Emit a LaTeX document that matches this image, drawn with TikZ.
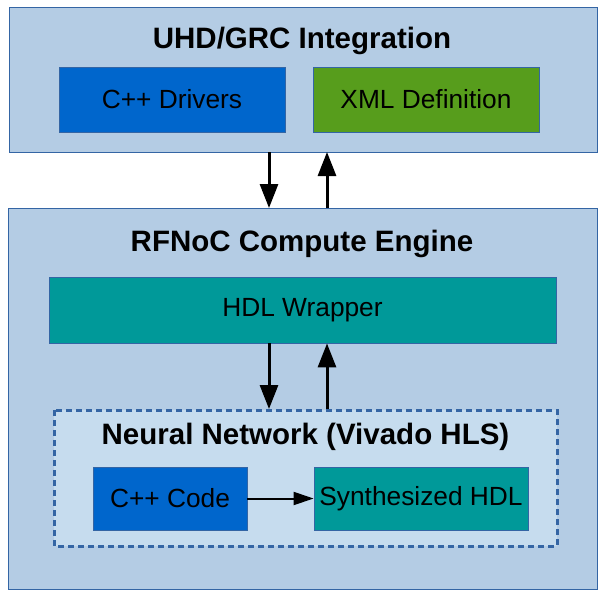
\documentclass[tikz,border=0pt]{standalone}
\usepackage{fontspec}
\setmainfont{Liberation Sans}
\usetikzlibrary{arrows.meta}
\definecolor{outerfill}{HTML}{B4CCE4}
\definecolor{outerdraw}{HTML}{3465A4}
\definecolor{innerfill}{HTML}{C6DCEE}
\definecolor{cppblue}{HTML}{0066CC}
\definecolor{xmlgreen}{HTML}{579D1C}
\definecolor{tealbox}{HTML}{009999}
\tikzset{
  outerbox/.style={draw=outerdraw, fill=outerfill, line width=1pt},
  innerbox/.style={draw=outerdraw, fill=innerfill, line width=3pt, dash pattern=on 6pt off 4pt},
  block/.style={draw=outerdraw, line width=0.8pt, inner sep=0pt},
  titletext/.style={font=\fontsize{29.5}{31}\selectfont\bfseries},
  blocktext/.style={font=\fontsize{26.3}{28}\selectfont},
  bigarrow/.style={line width=3pt, -{Triangle[width=18pt,length=24pt]}},
  smallarrow/.style={line width=2pt, -{Triangle[width=13pt,length=20pt]}}
}
\begin{document}
\begin{tikzpicture}[x=1pt,y=-1pt]
\useasboundingbox (0,0) rectangle (608,592);
% top box
\path[outerbox] (9,7) rectangle (597,152);
\node[titletext] (t1) at (302,41) {UHD/GRC Integration};
\node[block, fill=cppblue, minimum width=226pt, minimum height=65pt, blocktext] (drv) at (172,99.5) {C++ Drivers};
\node[block, fill=xmlgreen, minimum width=226pt, minimum height=65pt, blocktext] (xml) at (426,99.5) {XML Definition};
% bottom box
\path[outerbox] (8,208) rectangle (597,589);
\coordinate (topA) at (269,152);
\coordinate (topB) at (327,152);
\coordinate (botA) at (269,208);
\coordinate (botB) at (327,208);
\node[titletext] (t2) at (302,244) {RFNoC Compute Engine};
\node[block, fill=tealbox, minimum width=507pt, minimum height=66pt, blocktext] (hdl) at (302.5,310) {HDL Wrapper};
% dashed inner box
\path[innerbox] (54,410) rectangle (557,546);
\node[titletext] (t3) at (305.5,437) {Neural Network (Vivado HLS)};
\node[block, fill=cppblue, minimum width=154pt, minimum height=63pt, blocktext] (code) at (170,498.5) {C++ Code};
\node[block, fill=tealbox, minimum width=214pt, minimum height=63pt, blocktext] (synth) at (421,498.5) {Synthesized HDL};
\coordinate (nnA) at (269,409);
\coordinate (nnB) at (327,409);
% arrows
\draw[bigarrow] (topA) -- (botA);
\draw[bigarrow] (botB) -- (topB);
\draw[bigarrow] (hdl.south -| nnA) -- (nnA);
\draw[bigarrow] (nnB) -- (hdl.south -| nnB);
\draw[smallarrow] (code.east) -- (synth.west);
\end{tikzpicture}
\end{document}
